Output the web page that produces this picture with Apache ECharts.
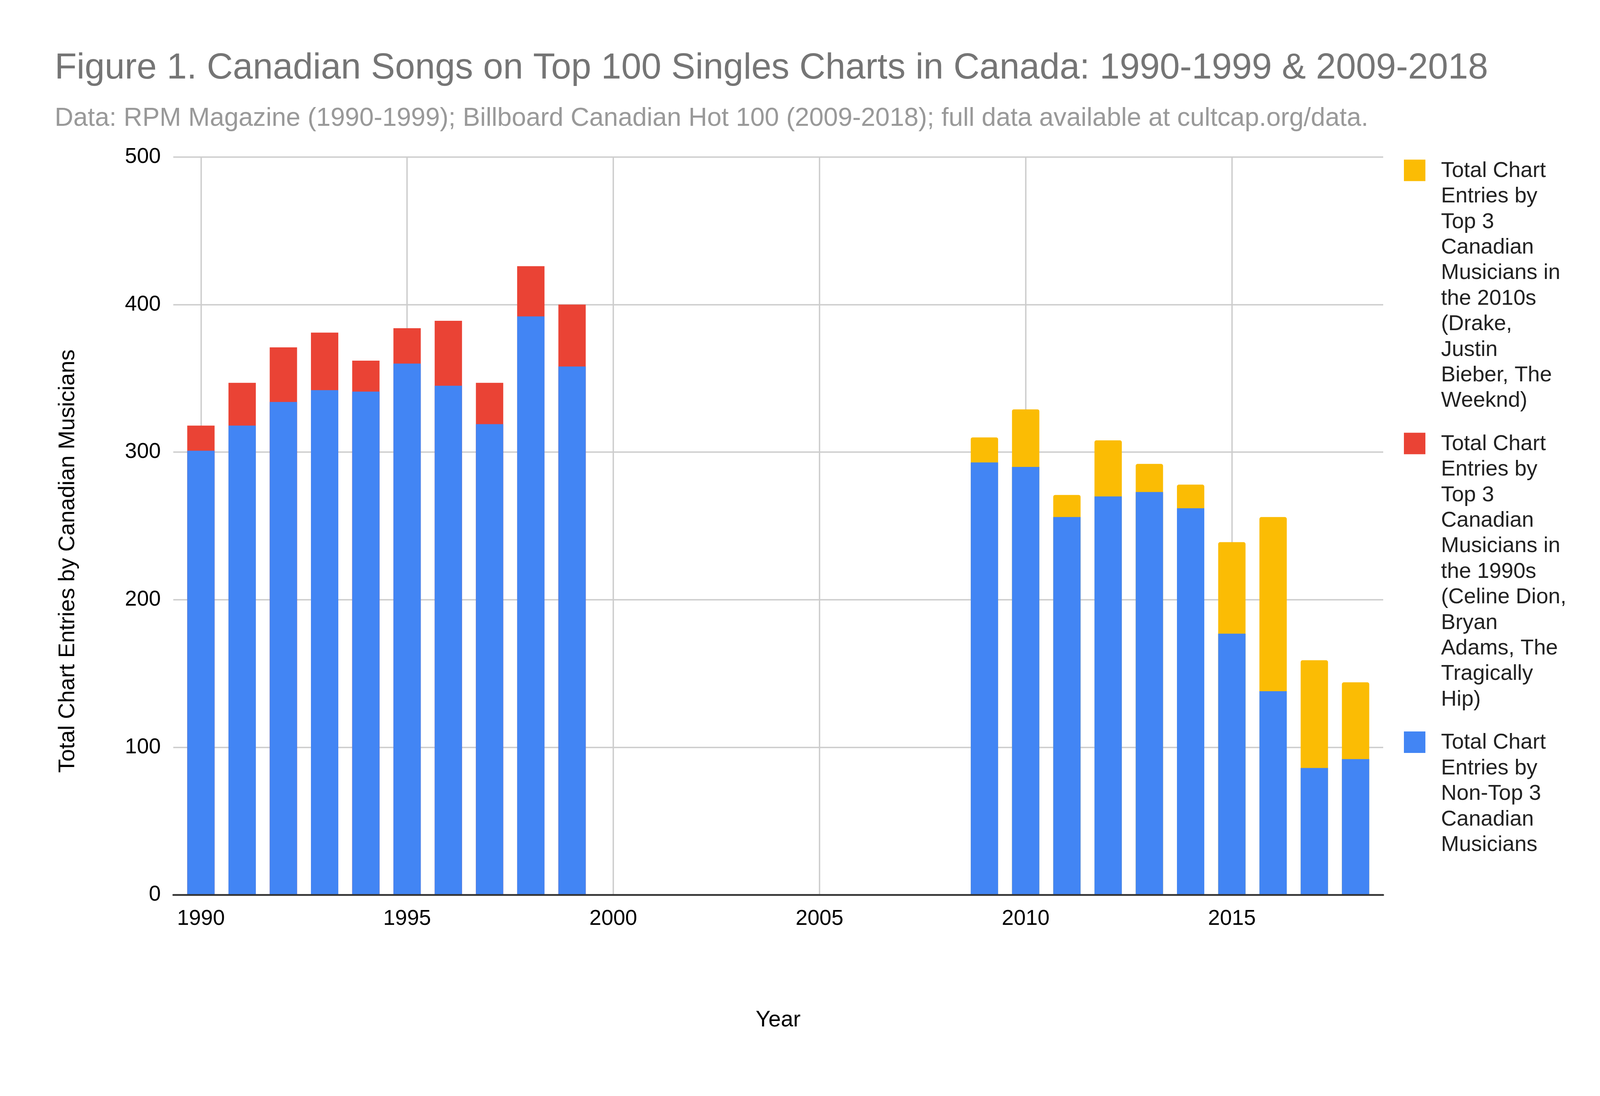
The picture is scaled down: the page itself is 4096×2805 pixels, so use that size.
<!DOCTYPE html>
<html>
<head>
<meta charset="utf-8">
<script src="https://cdn.jsdelivr.net/npm/echarts@6/dist/echarts.min.js"></script>
<style>
html,body{margin:0;padding:0;background:#ffffff;}
#chart{width:4096px;height:2805px;}
</style>
</head>
<body>
<div id="chart"></div>
<script>
// ---------------- data ----------------
const years1990s = [1990, 1991, 1992, 1993, 1994, 1995, 1996, 1997, 1998, 1999];
const nonTop3_1990s = [301, 318, 334, 342, 341, 360, 345, 319, 392, 358];
const top3_1990s = [17, 29, 37, 39, 21, 24, 44, 28, 34, 42];

const years2010s = [2009, 2010, 2011, 2012, 2013, 2014, 2015, 2016, 2017, 2018];
const nonTop3_2010s = [293, 290, 256, 270, 273, 262, 177, 138, 86, 92];
const top3_2010s = [17, 39, 15, 38, 19, 16, 62, 118, 73, 52];

// legend labels, line by line as wrapped in the original
const label2010s = ['Total Chart', 'Entries by', 'Top 3', 'Canadian', 'Musicians in', 'the 2010s', '(Drake,', 'Justin', 'Bieber, The', 'Weeknd)'];
const label1990s = ['Total Chart', 'Entries by', 'Top 3', 'Canadian', 'Musicians in', 'the 1990s', '(Celine Dion,', 'Bryan', 'Adams, The', 'Tragically', 'Hip)'];
const labelOther = ['Total Chart', 'Entries by', 'Non-Top 3', 'Canadian', 'Musicians'];

const NAME_2010S = label2010s.join(' ');
const NAME_1990S = label1990s.join(' ');
const NAME_OTHER = labelOther.join(' ');

const TITLE = 'Figure 1. Canadian Songs on Top 100 Singles Charts in Canada: 1990-1999 & 2009-2018';
const SUBTITLE = 'Data: RPM Magazine (1990-1999); Billboard Canadian Hot 100 (2009-2018); full data available at cultcap.org/data.';
const Y_TITLE = 'Total Chart Entries by Canadian Musicians';
const X_TITLE = 'Year';

// ---------------- style ----------------
const FONT = "'Liberation Sans', Arial, sans-serif";
const BLUE = '#4285F4', RED = '#EA4335', YELLOW = '#FBBC04';
const BAR_W = 70;
const LEG_FS = 55.5, LEG_LH = 65.4;

// stacked segments drawn as overlapping bars (totals behind, base in front)
const yellowData = years2010s.map((y, i) => [y, nonTop3_2010s[i] + top3_2010s[i]]);
const redData = years1990s.map((y, i) => [y, nonTop3_1990s[i] + top3_1990s[i]]);
const blueData = years1990s.map((y, i) => [y, nonTop3_1990s[i]])
  .concat(years2010s.map((y, i) => [y, nonTop3_2010s[i]]));

function legendFor(name, lines, top) {
  const h = lines.length * LEG_LH;
  return {
    orient: 'vertical',
    left: 3594,
    top: top,
    padding: 0,
    itemGap: 0,
    itemWidth: 90,
    itemHeight: h,
    selectedMode: false,
    data: [{ name: name, icon: 'path://M0,0M90,' + h + 'M0,3.6h55v55h-55z' }],
    formatter: () => lines.join('\n'),
    textStyle: { fontFamily: FONT, fontSize: LEG_FS, lineHeight: LEG_LH, color: '#222222' }
  };
}

const xMin = 1989.33, xMax = 2018.67;
const yearLabel = v => (Math.abs(v - Math.round(v)) < 1e-6 && Math.round(v) % 5 === 0) ? String(Math.round(v)) : '';

const option = {
  backgroundColor: '#ffffff',
  animation: false,
  title: [
    { text: TITLE, left: 140, top: 129, padding: 0,
      textStyle: { fontFamily: FONT, fontSize: 92.2, lineHeight: 92.2, fontWeight: 'normal', color: '#757575' } },
    { text: SUBTITLE, left: 140, top: 270.4, padding: 0,
      textStyle: { fontFamily: FONT, fontSize: 66.2, lineHeight: 66.2, fontWeight: 'normal', color: '#999999' } }
  ],
  legend: [
    legendFor(NAME_2010S, label2010s, 404.8),
    legendFor(NAME_1990S, label1990s, 1103.9),
    legendFor(NAME_OTHER, labelOther, 1868.4)
  ],
  grid: { left: 443.6, right: 555, top: 401.8, bottom: 514.8, containLabel: false },
  xAxis: [
    {
      type: 'value', min: xMin, max: xMax, minInterval: 5, maxInterval: 5,
      axisLine: { show: false },
      axisTick: { show: false },
      axisLabel: { show: true, margin: 34, fontFamily: FONT, fontSize: 55, color: '#000000',
        showMinLabel: false, showMaxLabel: false, formatter: yearLabel },
      splitLine: { show: true, showMinLine: false, showMaxLine: false,
        lineStyle: { color: '#cccccc', width: 3.5 } }
    },
    {
      type: 'value', min: xMin, max: xMax, position: 'bottom', z: 5,
      axisLine: { show: true, onZero: false, lineStyle: { color: '#333333', width: 4.5 } },
      axisTick: { show: false }, axisLabel: { show: false }, splitLine: { show: false }
    }
  ],
  yAxis: {
    type: 'value', min: 0, max: 500, interval: 100,
    axisLine: { show: false }, axisTick: { show: false },
    axisLabel: { margin: 32, fontFamily: FONT, fontSize: 55, color: '#000000' },
    splitLine: { lineStyle: { color: '#cccccc', width: 3.5 } }
  },
  graphic: [
    { type: 'text', x: 174.4, y: 1436, rotation: Math.PI / 2,
      style: { text: Y_TITLE, fontFamily: FONT, fontSize: 57.5, fill: '#000000', align: 'center', verticalAlign: 'middle' } },
    { type: 'text', x: 1992, y: 2611,
      style: { text: X_TITLE, fontFamily: FONT, fontSize: 57, fill: '#000000', align: 'center', verticalAlign: 'middle' } }
  ],
  series: [
    { name: NAME_2010S, type: 'bar', xAxisIndex: 0, data: yellowData, barWidth: BAR_W, barGap: '-100%',
      itemStyle: { color: YELLOW, borderRadius: [5, 5, 0, 0] } },
    { name: NAME_1990S, type: 'bar', xAxisIndex: 0, data: redData, barWidth: BAR_W, barGap: '-100%',
      itemStyle: { color: RED } },
    { name: NAME_OTHER, type: 'bar', xAxisIndex: 0, data: blueData, barWidth: BAR_W, barGap: '-100%',
      itemStyle: { color: BLUE } }
  ]
};

const chart = echarts.init(document.getElementById('chart'), null, { renderer: 'canvas', width: 4096, height: 2805 });
chart.setOption(option);
</script>
</body>
</html>
